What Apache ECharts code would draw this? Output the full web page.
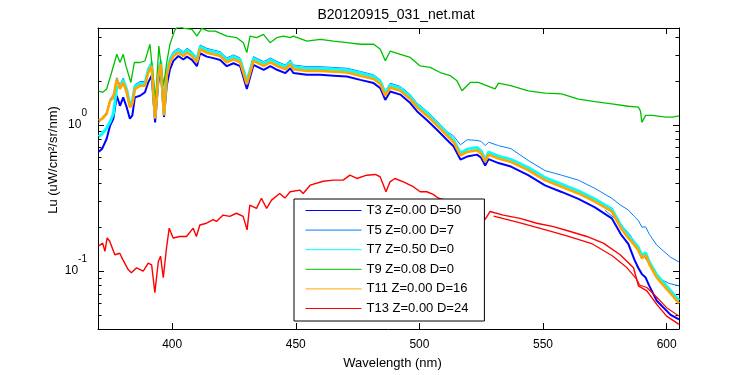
<!DOCTYPE html>
<html>
<head>
<meta charset="utf-8">
<title>B20120915_031_net.mat</title>
<script src="https://cdn.jsdelivr.net/npm/echarts@6.0.0/dist/echarts.min.js"></script>
<style>
  html, body { margin: 0; background: #fff; }
  #chart { width: 750px; height: 375px; }
</style>
</head>
<body>
<div id="chart"></div>
<script>
// wavelength grid (nm) for the traces that overlap in the main bundle
const wlBundle = [
  370.3, 371.7, 373.5, 374.9, 376.2, 377.6, 378.9, 380.2, 381.6, 382.9,
  383.9, 384.9, 387, 389, 390.3, 391.7, 393.1, 394.4, 395.4, 396.7,
  397.8, 399.1, 400.5, 402.5, 404.5, 406, 408, 410, 411.3, 414,
  416.7, 419.4, 422.1, 424.8, 427.5, 430.2, 432.9, 437, 439.7, 442.4,
  445.8, 447.8, 449, 454.5, 459.9, 465.3, 470.7, 476.1, 481.5, 484.2,
  486.2, 488.2, 492.3, 496.3, 499, 503, 507.1, 511.1, 513.8, 516.6,
  519.3, 523.3, 525, 526.6, 528, 532, 537, 544, 550.8, 557.5,
  564.3, 571, 577.8, 581.5, 584.5, 587, 588.5, 590, 591.5, 593,
  596, 601.6, 605
]
const t3 = [
  0.655, 0.687, 0.803, 0.99, 1.10, 1.58, 1.35, 1.54, 1.32, 1.10,
  1.16, 1.54, 1.58, 1.67, 1.95, 2.17, 1.04, 1.95, 2.34, 1.13,
  1.85, 2.40, 2.74, 2.96, 2.80, 2.93, 2.78, 2.52, 3.09, 2.93,
  2.86, 2.78, 2.52, 2.64, 2.52, 1.76, 2.57, 2.38, 2.52, 2.38,
  2.26, 2.44, 2.26, 2.20, 2.20, 2.17, 2.14, 2.03, 1.93, 1.78,
  1.48, 1.69, 1.61, 1.41, 1.24, 1.08, 0.925, 0.791, 0.714, 0.578,
  0.606, 0.625, 0.595, 0.526, 0.582, 0.547, 0.518, 0.453, 0.385, 0.347,
  0.311, 0.272, 0.229, 0.178, 0.153, 0.119, 0.105, 0.095, 0.090, 0.079,
  0.0625, 0.050, 0.0465
]
const t5 = [
  1.03, 1.12, 1.22, 1.50, 1.60, 2.10, 1.88, 2.09, 1.79, 1.41,
  1.49, 1.88, 1.98, 1.98, 2.44, 2.71, 1.15, 2.32, 2.78, 1.22,
  2.32, 2.86, 3.17, 3.34, 3.17, 3.34, 3.17, 2.87, 3.52, 3.34,
  3.25, 3.17, 2.87, 3.01, 2.87, 2.03, 2.93, 2.71, 2.87, 2.71,
  2.57, 2.78, 2.57, 2.50, 2.50, 2.47, 2.44, 2.32, 2.20, 2.03,
  1.69, 1.93, 1.83, 1.61, 1.41, 1.24, 1.06, 0.90, 0.84, 0.73,
  0.79, 0.782, 0.77, 0.72, 0.76, 0.72, 0.687, 0.57, 0.486, 0.452,
  0.418, 0.367, 0.314, 0.281, 0.261, 0.235, 0.222, 0.199, 0.200, 0.178,
  0.150, 0.124, 0.115
]
const t7 = [
  0.83, 0.868, 0.95, 1.05, 1.19, 1.80, 1.83, 2.03, 1.74, 1.37,
  1.45, 1.83, 1.92, 1.92, 2.37, 2.63, 1.14, 2.26, 2.70, 1.20,
  2.26, 2.78, 3.08, 3.24, 3.08, 3.24, 3.08, 2.79, 3.42, 3.24,
  3.16, 3.08, 2.79, 2.92, 2.79, 1.98, 2.85, 2.63, 2.79, 2.63,
  2.50, 2.70, 2.50, 2.43, 2.43, 2.40, 2.37, 2.26, 2.14, 1.98,
  1.64, 1.87, 1.78, 1.56, 1.37, 1.21, 1.03, 0.88, 0.79, 0.64,
  0.68, 0.70, 0.66, 0.58, 0.65, 0.61, 0.58, 0.51, 0.435, 0.392,
  0.353, 0.31, 0.265, 0.204, 0.175, 0.156, 0.145, 0.127, 0.133, 0.115,
  0.094, 0.073, 0.063
]
const t11 = [
  1.07, 1.10, 1.19, 1.46, 1.54, 2.06, 1.76, 1.95, 1.67, 1.32,
  1.39, 1.76, 1.85, 1.85, 2.28, 2.53, 1.10, 2.17, 2.60, 1.16,
  2.17, 2.67, 2.96, 3.12, 2.96, 3.12, 2.96, 2.68, 3.29, 3.12,
  3.04, 2.96, 2.68, 2.81, 2.68, 1.90, 2.74, 2.53, 2.68, 2.53,
  2.40, 2.60, 2.40, 2.34, 2.34, 2.31, 2.28, 2.17, 2.06, 1.90,
  1.58, 1.80, 1.71, 1.50, 1.32, 1.16, 0.99, 0.846, 0.763, 0.618,
  0.652, 0.669, 0.635, 0.56, 0.625, 0.587, 0.557, 0.489, 0.418, 0.377,
  0.339, 0.298, 0.255, 0.196, 0.168, 0.150, 0.139, 0.122, 0.128, 0.111,
  0.090, 0.070, 0.060
]

// second T5 trace, only where it leaves the bundle
const wlT5b = [575, 580, 585, 590, 594, 598, 601, 605]
const t5b = [0.260, 0.222, 0.178, 0.132, 0.105, 0.087, 0.082, 0.079]

const wlT9 = [
  370.3, 371.9, 373.5, 375.5, 377.6, 378.9, 380.2, 381.3, 383.3, 384.7,
  387, 389, 391, 392.3, 393.3, 394.6, 396.5, 397.8, 399.1, 401.2,
  402.5, 405, 408, 410, 412, 414.7, 417.4, 422.1, 426.1, 428.8,
  430.2, 431.5, 434.2, 436.9, 439.6, 442.3, 445, 447.7, 449, 454.5,
  459.9, 465.3, 470.7, 476.1, 481.5, 484.2, 486.2, 488.2, 492.3, 496.3,
  500.3, 504.4, 508.4, 512.5, 515.2, 517.2, 520.6, 523.8, 530.6, 532,
  537.3, 544, 550.8, 557.5, 564.3, 571, 577.8, 584.5, 588.6, 589.4,
  590, 591.5, 594.3, 599.7, 602.4, 605
]
const t9 = [
  1.70, 1.67, 1.76, 2.28, 3.04, 2.67, 3.04, 2.53, 1.95, 2.67,
  2.67, 2.74, 3.56, 2.17, 1.46, 3.46, 1.85, 2.67, 3.56, 4.50,
  4.70, 4.57, 4.50, 4.05, 4.57, 4.38, 4.38, 4.05, 3.95, 3.65,
  3.12, 4.05, 3.95, 4.16, 3.65, 3.95, 4.05, 3.95, 4.05, 3.74,
  3.84, 3.74, 3.65, 3.56, 3.56, 3.29, 2.74, 3.20, 3.04, 2.89,
  2.53, 2.47, 2.28, 2.17, 2.00, 1.71, 1.95, 1.95, 1.76, 1.93,
  1.85, 1.71, 1.65, 1.63, 1.50, 1.44, 1.39, 1.34, 1.32, 1.245,
  1.04, 1.16, 1.16, 1.13, 1.13, 1.15
]

const wlT13 = [
  370.3, 371.9, 372.8, 373.7, 374.7, 376.8, 378.8, 380.1, 382.2, 383.5,
  385.6, 388.3, 390.3, 391.7, 393, 394.4, 395.3, 396.4, 397.7, 398.8,
  400.4, 403.1, 405.8, 408.5, 409.8, 411.2, 413.9, 416.6, 417.9, 420.6,
  423.3, 426, 428.7, 430.3, 431.4, 434.1, 436.1, 438.2, 440.2, 443.5,
  445.6, 447.7, 451.7, 453, 455.8, 461.1, 465.2, 469.2, 471.9, 474.7,
  478.7, 482.1, 484.1, 486.5, 488.1, 490.1, 493.5, 497.5, 500.3, 503,
  505.6, 507.7, 512, 516.5, 520, 524, 526.6, 528.6, 533.9, 540.7,
  547.5, 554.2, 561, 567.7, 574.4, 581.2, 586.6, 588.6, 592, 596,
  600, 605
]
const t13 = [
  0.148, 0.155, 0.136, 0.168, 0.160, 0.129, 0.132, 0.119, 0.102, 0.097,
  0.105, 0.0995, 0.113, 0.110, 0.071, 0.116, 0.126, 0.090, 0.143, 0.196,
  0.168, 0.172, 0.172, 0.196, 0.172, 0.206, 0.212, 0.224, 0.218, 0.241,
  0.236, 0.248, 0.236, 0.191, 0.282, 0.268, 0.314, 0.268, 0.305, 0.339,
  0.315, 0.348, 0.357, 0.339, 0.386, 0.411, 0.418, 0.418, 0.452, 0.429,
  0.452, 0.457, 0.441, 0.348, 0.407, 0.429, 0.407, 0.377, 0.348, 0.348,
  0.334, 0.314, 0.300, 0.268, 0.281, 0.27, 0.225, 0.255, 0.241, 0.229,
  0.212, 0.201, 0.186, 0.172, 0.155, 0.129, 0.105, 0.079, 0.073, 0.059,
  0.049, 0.043
]
// second T13 trace on the red tail
const wlT13b = [530, 540, 550, 560, 570, 578, 584, 588, 589, 592, 596, 600, 605]
const t13b = [0.237, 0.215, 0.193, 0.173, 0.153, 0.127, 0.105, 0.087, 0.080, 0.077, 0.066, 0.056, 0.049]

const names = [
  'T3 Z=0.00 D=50',
  'T5 Z=0.00 D=7',
  'T7 Z=0.50 D=0',
  'T9 Z=0.08 D=0',
  'T11 Z=0.00 D=16',
  'T13 Z=0.00 D=24',
]
const colors = ['#0000ff', '#0080ff', '#00ffff', '#00c000', '#ffa500', '#ff0000']

// minor ticks of the log axis (2..9 of each decade)
const yMinorTicks = [0.05, 0.06, 0.07, 0.08, 0.09, 0.2, 0.3, 0.4, 0.5, 0.6, 0.7, 0.8, 0.9, 2, 3, 4]

const xMin = 370
const xMax = 605
const yMin = 0.04
const yMax = 4.6
const font = 'Liberation Sans, Arial, Helvetica, sans-serif'

const pairs = (xs, ys) => xs.map((x, i) => [x, ys[i]])

const line = (idx, width, xs, ys) => ({
  name: names[idx],
  type: 'line',
  data: pairs(xs, ys),
  showSymbol: false,
  symbol: 'none',
  lineStyle: { color: colors[idx], width: width },
  itemStyle: { color: colors[idx] },
  emphasis: { disabled: true },
  animation: false,
})

const axisLine = { show: true, onZero: false, lineStyle: { color: '#000', width: 1 } }
const axisTick = { show: true, inside: true, length: 6, lineStyle: { color: '#000', width: 1 } }

const chart = echarts.init(document.getElementById('chart'))

chart.setOption({
  animation: false,
  textStyle: { fontFamily: font },
  grid: { left: 98, right: 71, top: 28, bottom: 44, containLabel: false },
  graphic: [
    {
      type: 'text',
      x: 396,
      y: 15,
      style: {
        text: 'B20120915_031_net.mat',
        font: '14px ' + font,
        fill: '#000',
        align: 'center',
        verticalAlign: 'middle',
        textAlign: 'center',
        textVerticalAlign: 'middle',
      },
    },
    {
      type: 'text',
      x: 53,
      y: 160,
      rotation: Math.PI / 2,
      style: {
        text: 'Lu (uW/cm\u00b2/sr/nm)',
        font: '13px ' + font,
        fill: '#000',
        align: 'center',
        verticalAlign: 'middle',
        textAlign: 'center',
        textVerticalAlign: 'middle',
      },
    },
  ],
  legend: {
    data: names,
    orient: 'vertical',
    left: 294,
    top: 199,
    itemWidth: 56,
    itemHeight: 14,
    itemGap: 6.6,
    padding: [5, 16, 6, 11],
    backgroundColor: '#fff',
    borderColor: '#000',
    borderWidth: 1,
    borderRadius: 0,
    selectedMode: false,
    itemStyle: { opacity: 0 },
    lineStyle: { width: 1 },
    textStyle: { fontSize: 13, color: '#000', fontFamily: font },
  },
  xAxis: [
    {
      type: 'value',
      min: xMin,
      max: xMax,
      position: 'bottom',
      axisLine: axisLine,
      axisTick: axisTick,
      splitLine: { show: false },
      axisLabel: {
        color: '#000',
        fontSize: 12,
        margin: 10,
        formatter: (v) => (v % 50 === 0 ? String(v) : ''),
      },
      name: 'Wavelength (nm)',
      nameLocation: 'middle',
      nameGap: 28,
      nameTextStyle: { fontSize: 13, color: '#000', padding: [0, 0, 0, 8] },
    },
    {
      type: 'value',
      min: xMin,
      max: xMax,
      position: 'top',
      axisLine: axisLine,
      axisTick: axisTick,
      splitLine: { show: false },
      axisLabel: { show: false },
    },
  ],
  yAxis: [
    {
      type: 'log',
      logBase: 10,
      min: yMin,
      max: yMax,
      position: 'left',
      axisLine: axisLine,
      axisTick: axisTick,
      splitLine: { show: false },
      axisLabel: {
        margin: 11,
        formatter: (v) => {
          const e = Math.log10(v)
          const r = Math.round(e)
          if (Math.abs(e - r) > 1e-6) return ''
          return '{b|10}{s|' + r + '}'
        },
        rich: {
          b: { fontSize: 12, color: '#000', fontFamily: font },
          s: { fontSize: 10, color: '#000', fontFamily: font, padding: [0, 0, 24, 0] },
        },
      },
    },
    {
      type: 'log',
      logBase: 10,
      min: yMin,
      max: yMax,
      position: 'right',
      axisLine: axisLine,
      axisTick: axisTick,
      splitLine: { show: false },
      axisLabel: { show: false },
    },
  ],
  series: [
    line(0, 2, wlBundle, t3),
    line(1, 1, wlBundle, t5),
    line(1, 1, wlT5b, t5b),
    line(2, 3, wlBundle, t7),
    line(3, 1.3, wlT9, t9),
    line(4, 2.6, wlBundle, t11),
    line(5, 1.4, wlT13, t13),
    line(5, 1.2, wlT13b, t13b),
    {
      type: 'custom',
      silent: true,
      animation: false,
      data: yMinorTicks.map((v) => [xMin, v]),
      renderItem: (params, api) => {
        const p = api.coord([xMin, api.value(1)])
        const q = api.coord([xMax, api.value(1)])
        const y = Math.round(p[1]) + 0.5
        return {
          type: 'group',
          children: [
            { type: 'line', shape: { x1: p[0], y1: y, x2: p[0] + 3.5, y2: y }, style: { stroke: '#000', lineWidth: 1 } },
            { type: 'line', shape: { x1: q[0] - 3.5, y1: y, x2: q[0], y2: y }, style: { stroke: '#000', lineWidth: 1 } },
          ],
        }
      },
    },
  ],
})
</script>
</body>
</html>
